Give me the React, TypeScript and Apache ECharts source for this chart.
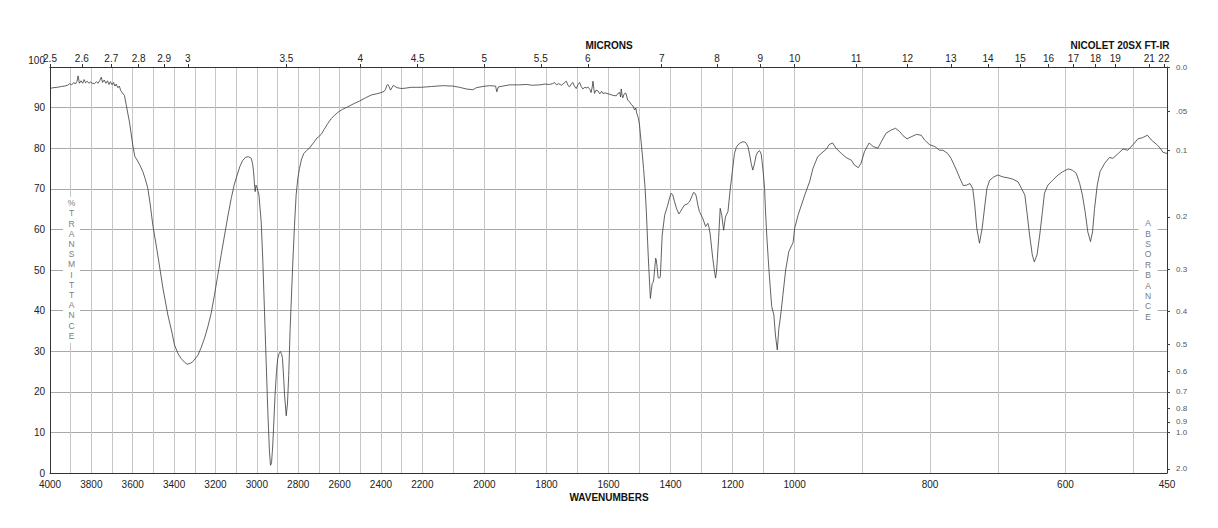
import React, { useEffect, useRef } from "react";
import * as echarts from "echarts";

// ---- data ----
const wavenumbers: number[] = [
  4000, 3985, 3965, 3945, 3930, 3915, 3905, 3895, 3885, 3878, 3870, 3864, 3858, 3850, 3842, 3835, 3828, 3820, 3812, 3805,
  3795, 3785, 3775, 3768, 3760, 3752, 3746, 3738, 3730, 3722, 3715, 3708, 3700, 3693, 3686, 3680, 3672, 3665, 3658, 3650,
  3640, 3632, 3616, 3600, 3590, 3579, 3565, 3551, 3540, 3527, 3515, 3503, 3479, 3454, 3430, 3410, 3398, 3380, 3366, 3350,
  3337, 3322, 3310, 3285, 3270, 3253, 3237, 3221, 3205, 3189, 3173, 3156, 3140, 3124, 3110, 3095, 3082, 3068, 3054, 3040,
  3027, 3020, 3016, 3012, 3008, 3004, 3000, 2990, 2979, 2971, 2963, 2955, 2947, 2939, 2934, 2929, 2923, 2912, 2905, 2899,
  2892, 2886, 2880, 2876, 2870, 2866, 2858, 2852, 2846, 2839, 2826, 2818, 2810, 2802, 2794, 2784, 2773, 2760, 2746, 2734,
  2722, 2710, 2702, 2689, 2675, 2657, 2640, 2625, 2609, 2585, 2560, 2530, 2504, 2475, 2447, 2420, 2399, 2385, 2378, 2372,
  2367, 2361, 2354, 2348, 2340, 2332, 2322, 2300, 2280, 2254, 2230, 2205, 2170, 2134, 2102, 2080, 2059, 2037, 2026, 2005,
  1983, 1964, 1960, 1955, 1919, 1890, 1865, 1845, 1822, 1805, 1790, 1780, 1774, 1768, 1760, 1752, 1744, 1736, 1730, 1726,
  1720, 1715, 1710, 1704, 1698, 1693, 1688, 1683, 1676, 1670, 1667, 1660, 1656, 1652, 1650, 1647, 1645, 1640, 1634, 1628,
  1622, 1618, 1610, 1597, 1585, 1575, 1568, 1564, 1561, 1559, 1556, 1554, 1550, 1545, 1543, 1538, 1533, 1527, 1521, 1516,
  1512, 1509, 1504, 1500, 1495, 1491, 1487, 1482, 1478, 1474, 1470, 1465, 1462, 1459, 1456, 1454, 1448, 1446, 1444, 1440,
  1436, 1433, 1427, 1419, 1409, 1403, 1398, 1393, 1387, 1380, 1373, 1367, 1362, 1355, 1347, 1339, 1332, 1326, 1320, 1317,
  1312, 1307, 1296, 1287, 1280, 1276, 1272, 1264, 1259, 1255, 1252, 1249, 1245, 1240, 1235, 1229, 1223, 1215, 1208, 1201,
  1194, 1188, 1183, 1175, 1167, 1160, 1156, 1150, 1145, 1140, 1135, 1130, 1124, 1118, 1113, 1108, 1105, 1101, 1097, 1094,
  1090, 1085, 1081, 1074, 1067, 1062, 1056, 1051, 1045, 1038, 1029, 1019, 1010, 1005, 1000, 995, 990, 985, 978, 973,
  966, 958, 953, 949, 944, 939, 931, 924, 916, 912, 906, 902, 897, 890, 884, 877, 872, 865, 857, 851,
  845, 840, 834, 828, 820, 813, 808, 801, 793, 786, 781, 774, 769, 761, 756, 751, 746, 741, 737, 734,
  731, 727, 723, 719, 716, 712, 706, 700, 692, 685, 678, 670, 665, 660, 657, 653, 649, 646, 642, 638,
  634, 631, 626, 619, 611, 604, 596, 590, 584, 579, 575, 571, 567, 563, 560, 557, 553, 549, 542, 535,
  530, 522, 515, 508, 500, 493, 486, 479, 473, 465, 460, 456, 450,
];

const transmittance: number[] = [
  94.7, 94.9, 95.0, 95.2, 95.3, 95.5, 95.9, 95.6, 96.2, 95.8, 96.4, 97.8, 96.0, 96.6, 96.0, 96.9, 96.1, 96.5, 96.0, 96.3,
  96.0, 95.9, 96.4, 96.0, 96.6, 97.5, 96.2, 96.8, 96.0, 96.6, 95.7, 96.4, 95.6, 96.2, 95.3, 95.8, 94.9, 95.3, 94.2, 93.6,
  93.0, 90.8, 86.5, 80.8, 78.0, 77.1, 75.8, 74.2, 72.5, 70.1, 66.0, 61.1, 53.7, 45.5, 38.9, 34.5, 31.5, 29.3, 28.2, 27.3,
  26.8, 27.0, 27.4, 29.0, 30.8, 33.2, 36.0, 39.3, 43.8, 48.7, 53.6, 58.6, 63.3, 67.6, 70.9, 73.4, 75.5, 77.0, 77.8, 77.9,
  77.5, 76.0, 74.2, 71.5, 69.3, 70.9, 70.5, 68.5, 61.9, 52.0, 39.7, 27.4, 15.1, 5.2, 1.9, 2.5, 6.9, 19.2, 25.0, 28.2,
  29.5, 29.9, 29.2, 28.2, 23.0, 19.2, 14.1, 17.0, 24.0, 35.6, 52.0, 61.0, 68.5, 72.5, 75.0, 77.3, 78.7, 79.4, 80.0, 80.8,
  81.6, 82.5, 82.8, 83.4, 84.6, 86.1, 87.3, 88.1, 88.8, 89.6, 90.2, 91.0, 91.6, 92.4, 93.1, 93.4, 93.7, 94.0, 94.5, 95.4,
  95.7, 95.2, 94.3, 94.8, 95.5, 95.2, 94.9, 94.7, 94.8, 95.0, 95.0, 95.0, 95.2, 95.4, 95.3, 95.0, 94.6, 94.4, 94.9, 95.2,
  95.4, 95.3, 93.9, 95.1, 95.6, 95.6, 95.7, 95.5, 95.6, 95.8, 95.7, 95.9, 96.2, 95.6, 95.9, 95.5, 96.0, 96.5, 95.4, 95.1,
  95.8, 96.2, 95.3, 94.7, 95.7, 96.2, 95.2, 94.6, 95.0, 94.8, 95.1, 94.5, 93.7, 95.3, 96.5, 94.5, 93.5, 94.3, 94.1, 93.4,
  94.0, 93.5, 93.6, 93.3, 93.0, 92.9, 93.6, 93.7, 92.6, 94.6, 93.0, 92.4, 93.3, 93.6, 93.3, 91.8, 91.5, 90.8, 90.4, 89.4,
  89.9, 88.6, 87.5, 85.7, 81.6, 78.5, 75.0, 70.0, 64.4, 57.0, 50.4, 43.0, 45.0, 46.7, 47.0, 47.9, 52.9, 52.5, 51.2, 48.1,
  48.0, 48.3, 58.6, 63.5, 66.0, 67.8, 68.9, 68.5, 66.8, 65.0, 63.8, 64.5, 65.2, 66.0, 66.2, 66.8, 68.0, 69.1, 68.8, 68.1,
  66.0, 64.4, 62.7, 60.7, 61.5, 60.5, 58.6, 52.9, 50.0, 48.0, 49.5, 52.9, 58.0, 65.2, 63.5, 59.8, 63.1, 64.4, 69.7, 74.2,
  78.7, 80.2, 80.8, 81.3, 81.6, 81.5, 81.2, 80.3, 78.3, 76.2, 74.6, 76.0, 78.3, 79.1, 79.4, 78.6, 76.7, 73.8, 70.1, 64.5,
  58.6, 52.5, 48.0, 41.0, 38.9, 34.0, 30.3, 35.6, 38.9, 43.8, 50.0, 54.5, 56.0, 56.8, 60.3, 63.5, 66.0, 68.5, 71.7, 75.0,
  77.9, 79.1, 79.8, 80.9, 81.3, 80.0, 78.7, 77.7, 77.0, 75.9, 75.2, 76.3, 79.1, 81.3, 80.4, 80.0, 81.6, 83.7, 84.5, 84.9,
  84.1, 83.1, 82.3, 82.8, 83.4, 83.2, 82.0, 80.9, 80.4, 79.5, 79.5, 78.7, 77.5, 74.6, 72.6, 70.8, 70.9, 71.3, 70.1, 66.0,
  60.3, 56.6, 60.3, 66.0, 70.1, 72.1, 72.9, 73.4, 72.9, 72.7, 72.4, 71.7, 70.1, 68.5, 64.4, 58.6, 53.7, 52.0, 53.7, 58.6,
  64.4, 68.9, 70.9, 72.1, 73.4, 74.2, 74.9, 74.6, 73.8, 71.3, 68.5, 64.4, 59.4, 57.0, 59.4, 65.2, 70.9, 74.2, 76.3, 77.7,
  77.5, 78.7, 79.8, 79.5, 80.9, 82.3, 82.6, 83.2, 82.0, 80.9, 80.0, 79.0, 78.7,
];

// tick labels
const wavenumberLabels: number[] = [
  4000, 3800, 3600, 3400, 3200, 3000, 2800, 2600, 2400, 2200,
  2000, 1800, 1600, 1400, 1200, 1000, 800, 600, 450,
];
const wavenumberGrid: number[] = [
  3900, 3800, 3700, 3600, 3500, 3400, 3300, 3200, 3100, 3000, 2900, 2800, 2700, 2600, 2500, 2400, 2300, 2200,
  2100, 2000, 1900, 1800, 1700, 1600, 1500, 1400, 1300, 1200, 1100, 1000, 900, 800, 700, 600, 500,
];
const micronLabels: number[] = [
  2.5, 2.6, 2.7, 2.8, 2.9, 3, 3.5, 4, 4.5, 5, 5.5, 6, 7, 8, 9, 10, 11, 12, 13, 14, 15, 16, 17, 18, 19, 21, 22,
];
const absorbanceTicks: number[] = [0, 0.05, 0.1, 0.2, 0.3, 0.4, 0.5, 0.6, 0.7, 0.8, 0.9, 1.0, 2.0];
const absorbanceLabels: string[] = ["0.0", ".05", "0.1", "0.2", "0.3", "0.4", "0.5", "0.6", "0.7", "0.8", "0.9", "1.0", "2.0"];

// piecewise-linear wavenumber scale (three equal-width segments)
function toU(w: number): number {
  if (w >= 2200) return (4000 - w) / 1800;
  if (w >= 1000) return 1 + (2200 - w) / 1200;
  return 2 + (1000 - w) / 550;
}
function fromU(u: number): number {
  if (u <= 1) return 4000 - u * 1800;
  if (u <= 2) return 2200 - (u - 1) * 1200;
  return 1000 - (u - 2) * 550;
}

const FONT = '"Liberation Sans", Arial, Helvetica, sans-serif';

export default function App() {
  const ref = useRef<HTMLDivElement>(null);
  useEffect(() => {
    if (!ref.current) return;
    const chart = echarts.init(ref.current, undefined, { renderer: "svg" });
    const data = wavenumbers.map((w, i) => [toU(w), transmittance[i]]);
    const absT = absorbanceTicks.map((a) => 100 * Math.pow(10, -a));

    const letterBox = (cx: number, top: number, h: number, w: number, txt: string, lh: number) => [
      { type: "rect", z: 10, shape: { x: cx - w / 2, y: top, width: w, height: h }, style: { fill: "#ffffff" } },
      {
        type: "text", z: 11, x: cx, y: top + 1,
        style: {
          text: txt, fill: "#7c7c7c", font: `8.5px ${FONT}`, lineHeight: lh,
          textAlign: "center", align: "center", textVerticalAlign: "top", verticalAlign: "top",
        },
      },
    ];

    const noMinor = { minorTick: { show: false }, minorSplitLine: { show: false } };

    chart.setOption({
      animation: false,
      backgroundColor: "#ffffff",
      grid: { left: 50, right: 51, top: 67, bottom: 55, containLabel: false },
      xAxis: [
        {
          ...noMinor,
          type: "value", position: "bottom", min: 0, max: 3,
          axisLine: { show: true, onZero: false, lineStyle: { color: "#333", width: 1 } },
          axisTick: { show: false, customValues: wavenumberGrid.map(toU) },
          axisLabel: {
            customValues: wavenumberLabels.map(toU), margin: 6,
            color: "#222", fontSize: 10, fontFamily: FONT,
            formatter: (v: number) => String(Math.round(fromU(v) / 10) * 10),
          },
          splitLine: { show: true, lineStyle: { color: "#c6c6c6", width: 1 } },
        },
        {
          ...noMinor,
          type: "value", position: "top", min: 0, max: 3,
          axisLine: { show: true, onZero: false, lineStyle: { color: "#333", width: 1 } },
          axisTick: { show: true, length: 3, customValues: micronLabels.map((m) => toU(10000 / m)), lineStyle: { color: "#333" } },
          axisLabel: {
            customValues: micronLabels.map((m) => toU(10000 / m)), margin: 4,
            color: "#222", fontSize: 10, fontFamily: FONT,
            formatter: (v: number) => (10000 / fromU(v)).toFixed(1).replace(/\.0$/, ""),
          },
          splitLine: { show: false },
        },
      ],
      yAxis: [
        {
          ...noMinor,
          type: "value", position: "left", min: 0, max: 100, interval: 10,
          axisLine: { show: true, onZero: false, lineStyle: { color: "#333", width: 1 } },
          axisTick: { show: false },
          axisLabel: {
            margin: 5, color: "#222", fontSize: 10, fontFamily: FONT,
            formatter: (v: number) => (v === 100 ? "{top|100}" : String(v)),
            rich: { top: { fontSize: 10, fontFamily: FONT, color: "#222", padding: [0, 0, 13, 0] } },
          },
          splitLine: { show: true, lineStyle: { color: "#a9a9a9", width: 1 } },
        },
        {
          ...noMinor,
          type: "value", position: "right", min: 0, max: 100,
          axisLine: { show: true, onZero: false, lineStyle: { color: "#333", width: 1 } },
          axisTick: { show: true, length: 3, inside: false, customValues: absT, lineStyle: { color: "#444" } },
          axisLabel: {
            customValues: absT, margin: 9, color: "#555", fontSize: 8, fontFamily: FONT,
            formatter: (v: number) => {
              let best = 0;
              absT.forEach((t, i) => { if (Math.abs(t - v) < Math.abs(absT[best] - v)) best = i; });
              return absorbanceLabels[best];
            },
          },
          splitLine: { show: false },
        },
      ],
      series: [
        {
          type: "line", xAxisIndex: 0, yAxisIndex: 0, data, showSymbol: false, symbol: "none",
          smooth: false, silent: true, z: 20,
          lineStyle: { color: "#3a3a3a", width: 0.8 },
        },
      ],
      graphic: [
        ...letterBox(71.5, 197, 146, 17, "%\nT\nR\nA\nN\nS\nM\nI\nT\nT\nA\nN\nC\nE", 10.2),
        ...letterBox(1148, 217, 108, 19, "A\nB\nS\nO\nR\nB\nA\nN\nC\nE", 10.4),
        {
          type: "text", x: 609, y: 45, z: 12,
          style: { text: "MICRONS", font: `bold 10px ${FONT}`, fill: "#111", textAlign: "center", align: "center", textVerticalAlign: "middle", verticalAlign: "middle" },
        },
        {
          type: "text", x: 1120, y: 45, z: 12,
          style: { text: "NICOLET 20SX FT-IR", font: `bold 10px ${FONT}`, fill: "#111", textAlign: "center", align: "center", textVerticalAlign: "middle", verticalAlign: "middle" },
        },
        {
          type: "text", x: 609, y: 497, z: 12,
          style: { text: "WAVENUMBERS", font: `bold 10px ${FONT}`, fill: "#111", textAlign: "center", align: "center", textVerticalAlign: "middle", verticalAlign: "middle" },
        },
      ],
    });
    return () => chart.dispose();
  }, []);

  return (
    <div
      ref={ref}
      style={{ position: "fixed", left: 0, top: 0, width: 1218, height: 528, background: "#fff" }}
    />
  );
}
